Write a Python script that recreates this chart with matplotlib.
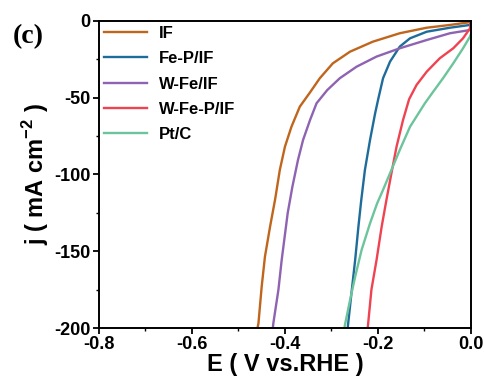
import matplotlib
matplotlib.use('Agg')
import matplotlib.pyplot as plt
from matplotlib.ticker import MultipleLocator

# LSV curves (E in V vs RHE, j in mA cm-2)
e_if = [0.0, -0.002, -0.045, -0.095, -0.153, -0.211, -0.260, -0.297, -0.325, -0.346,
        -0.368, -0.386, -0.400, -0.411, -0.421, -0.432, -0.443, -0.450, -0.457, -0.459]
j_if = [0.0, -0.8, -2.6, -4.4, -8.0, -13.5, -20.0, -27.6, -37.3, -46.5,
        -55.8, -68.9, -81.9, -97.0, -116.0, -134.0, -153.5, -173.0, -197.0, -200]

e_fep = [0.0, -0.002, -0.045, -0.095, -0.131, -0.153, -0.174, -0.189, -0.199, -0.206,
         -0.217, -0.228, -0.236, -0.242, -0.249, -0.257, -0.264, -0.265]
j_fep = [0.0, -2.6, -4.4, -7.0, -11.3, -16.7, -26.5, -37.3, -50.4, -60.1,
         -77.5, -97.0, -117.0, -134.0, -155.7, -177.4, -197.0, -200]

e_wfe = [0.0, -0.002, -0.045, -0.095, -0.153, -0.203, -0.246, -0.282, -0.309, -0.332,
         -0.346, -0.361, -0.372, -0.384, -0.394, -0.407, -0.414, -0.425, -0.426]
j_wfe = [-4.0, -5.9, -8.0, -12.4, -17.8, -23.2, -29.8, -37.3, -45.0, -53.6,
         -64.5, -77.5, -90.6, -108.0, -125.0, -155.7, -175.0, -197.0, -200]

e_wfep = [0.0, -0.002, -0.017, -0.038, -0.067, -0.095, -0.117, -0.133, -0.146, -0.160,
          -0.171, -0.182, -0.192, -0.203, -0.214, -0.221, -0.222]
j_wfep = [0.0, -4.8, -11.3, -17.8, -24.3, -33.0, -41.7, -51.0, -64.5, -81.9,
          -99.2, -117.0, -134.0, -155.7, -175.0, -197.0, -200]

e_ptc = [0.0, -0.002, -0.017, -0.038, -0.060, -0.081, -0.099, -0.131, -0.153, -0.174,
         -0.189, -0.202, -0.217, -0.235, -0.249, -0.260, -0.271, -0.272]
j_ptc = [-8.5, -10.2, -17.8, -27.6, -37.3, -46.0, -53.6, -68.9, -84.0, -99.2,
         -110.0, -119.0, -131.8, -149.0, -166.6, -181.8, -198.0, -200]

series = [
    ('IF', e_if, j_if, '#C0651C'),
    ('Fe-P/IF', e_fep, j_fep, '#1F6C9B'),
    ('W-Fe/IF', e_wfe, j_wfe, '#8E63B1'),
    ('W-Fe-P/IF', e_wfep, j_wfep, '#EF4352'),
    ('Pt/C', e_ptc, j_ptc, '#6CC49C'),
]

plt.rcParams['font.family'] = ['Liberation Sans', 'DejaVu Sans']
plt.rcParams['font.weight'] = 'bold'
plt.rcParams['mathtext.fontset'] = 'custom'
plt.rcParams['mathtext.rm'] = 'Liberation Sans:bold'
plt.rcParams['mathtext.bf'] = 'Liberation Sans:bold'

fig = plt.figure(figsize=(4.85, 3.81), dpi=100)
ax = fig.add_axes([0.204, 0.139, 0.767, 0.806])

for name, e, j, c in series:
    ax.plot(e, j, color=c, lw=1.7, label=name)

ax.set_xlim(-0.8, 0.0)
ax.set_ylim(-200, 0)
ax.xaxis.set_minor_locator(MultipleLocator(0.1))
ax.yaxis.set_minor_locator(MultipleLocator(25))
ax.set_xticks([-0.8, -0.6, -0.4, -0.2, 0.0])
ax.set_xticklabels(['-0.8', '-0.6', '-0.4', '-0.2', '0.0'])
ax.set_yticks([-200, -150, -100, -50, 0])
ax.set_yticklabels(['-200', '-150', '-100', '-50', '0'])
ax.tick_params(which='major', length=4, width=1.3, labelsize=13, pad=2)
ax.tick_params(which='minor', length=2.5, width=1.0)
for s in ax.spines.values():
    s.set_linewidth(1.4)

ax.set_xlabel('E ( V vs.RHE )', fontsize=17, fontweight='bold', labelpad=0)
ax.set_ylabel('j ( mA cm$^{\\mathrm{-2}}$ )', fontsize=17, fontweight='bold', labelpad=2)

ax.legend(loc='upper left', frameon=False, fontsize=12, handlelength=2.6,
          labelspacing=0.62, borderaxespad=0.1, handletextpad=0.7,
          borderpad=0.2)

fig.text(0.027, 0.903, '(c)', fontsize=20, fontweight='bold', va='center',
         family=['Liberation Serif', 'DejaVu Serif'])

fig.savefig('out.png', dpi=100)
